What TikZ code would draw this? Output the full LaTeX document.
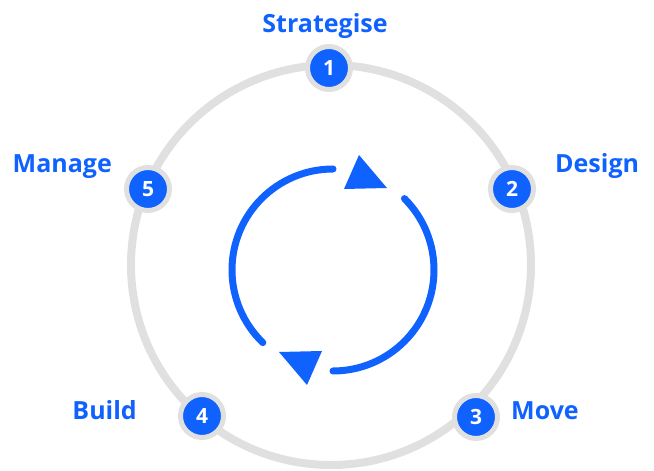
\documentclass[tikz,border=0pt]{standalone}
\usepackage{fontspec}
\setmainfont{Open Sans}
\usetikzlibrary{positioning}
\definecolor{cycleblue}{HTML}{0F62FE}
\definecolor{ringgray}{HTML}{E0E0E0}

\begin{document}
\begin{tikzpicture}[x=1pt, y=1pt]
    \tikzstyle{stepnode} = [circle, draw=ringgray, line width=5pt, fill=cycleblue,
	text=white, font=\fontsize{21}{21}\selectfont\bfseries, minimum size=43pt,
	inner sep=0pt]
    \tikzstyle{steplabel} = [text=cycleblue, font=\fontsize{25}{25}\selectfont\bfseries,
	inner sep=0pt, text height=18pt, text depth=0pt]
    \tikzstyle{turn} = [cycleblue, line width=7pt, line cap=round]

	\useasboundingbox (0,0) rectangle (654,471);

	% outer ring
	\draw[ringgray, line width=8pt] (331,206) circle (200);

	\path
		node[stepnode] (s1) at (329,403) {1}
		node[stepnode] (s2) at (512,282) {2}
		node[stepnode] (s3) at (476,54)  {3}
		node[stepnode] (s4) at (202,55)  {4}
		node[stepnode] (s5) at (148,282) {5}

		node[steplabel, above=11pt of s1, xshift=-4pt] (l1) {Strategise}
		node[steplabel, right=19pt of s2, yshift=25pt] (l2) {Design}
		node[steplabel, right=11pt of s3, yshift=6pt]  (l3) {Move}
		node[steplabel, left=41pt of s4, yshift=5pt]   (l4) {Build}
		node[steplabel, left=12pt of s5, yshift=25pt]  (l5) {Manage}
	;

	% inner cycle
	\coordinate (c) at (333,201);
	\draw[turn] (c) ++(90:101) arc (90:226:101);
	\draw[turn] (c) ++(45:101) arc (45:-90:101);
	\fill[cycleblue, shift={(c)}] (26,115) -- (11,81) -- (54,82) -- cycle;
	\fill[cycleblue, shift={(c)}] (-26,-115) -- (-11,-81) -- (-54,-82) -- cycle;
\end{tikzpicture}
\end{document}
